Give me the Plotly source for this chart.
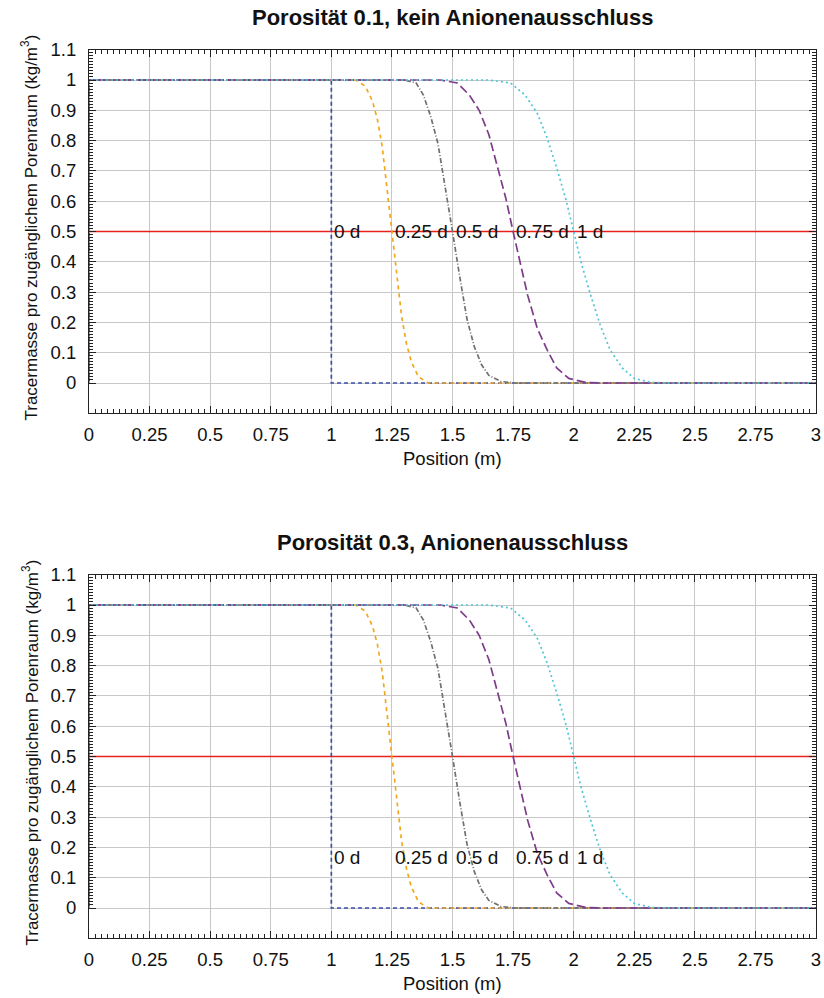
import plotly.graph_objects as go

# ---------------- data ----------------
# breakthrough fronts, same shape in both panels
x_0d = [0, 0, 1.0, 1.0, 3.0]
y_0d = [0, 1, 1.0, 0.0, 0.0]

x_025d = [0, 0, 1.10, 1.14, 1.17, 1.19, 1.21, 1.23, 1.25, 1.27, 1.29, 1.31, 1.33, 1.36, 1.40, 3.0]
y_025d = [0, 1, 1.00, 0.98, 0.93, 0.87, 0.78, 0.64, 0.50, 0.36, 0.22, 0.13, 0.07, 0.02, 0.00, 0.0]

x_05d = [0, 0, 1.30, 1.35, 1.38, 1.41, 1.44, 1.47, 1.50, 1.53, 1.56, 1.59, 1.62, 1.65, 1.70, 1.76, 3.0]
y_05d = [0, 1, 1.00, 0.99, 0.95, 0.88, 0.79, 0.65, 0.50, 0.35, 0.21, 0.12, 0.06, 0.025, 0.005, 0.0, 0.0]

x_075d = [0, 0, 1.45, 1.52, 1.57, 1.61, 1.65, 1.69, 1.72, 1.75, 1.78, 1.81, 1.85, 1.89, 1.93, 1.98, 2.05, 2.12, 3.0]
y_075d = [0, 1, 1.00, 0.99, 0.95, 0.90, 0.82, 0.70, 0.61, 0.50, 0.39, 0.29, 0.18, 0.11, 0.05, 0.015, 0.002, 0.0, 0.0]

x_1d = [0, 0, 1.65, 1.74, 1.80, 1.85, 1.89, 1.93, 1.97, 2.00, 2.03, 2.07, 2.11, 2.15, 2.20, 2.25, 2.32, 2.40, 3.0]
y_1d = [0, 1, 1.00, 0.99, 0.95, 0.89, 0.81, 0.71, 0.60, 0.50, 0.40, 0.29, 0.19, 0.11, 0.05, 0.015, 0.002, 0.0, 0.0]

ref_x = [0, 3]
ref_y = [0.5, 0.5]

label_texts = ["0 d", "0.25 d", "0.5 d", "0.75 d", "1 d"]
label_x = [1.0, 1.25, 1.5, 1.75, 2.0]
label_y_panel = [0.5, 0.166]

titles = ["Porosität 0.1, kein Anionenausschluss", "Porosität 0.3, Anionenausschluss"]

x_ticks = [0, 0.25, 0.5, 0.75, 1, 1.25, 1.5, 1.75, 2, 2.25, 2.5, 2.75, 3]
x_ticklabels = ["0", "0.25", "0.5", "0.75", "1", "1.25", "1.5", "1.75", "2", "2.25", "2.5", "2.75", "3"]
y_ticks = [0, 0.1, 0.2, 0.3, 0.4, 0.5, 0.6, 0.7, 0.8, 0.9, 1.0, 1.1]
y_ticklabels = ["0", "0.1", "0.2", "0.3", "0.4", "0.5", "0.6", "0.7", "0.8", "0.9", "1", "1.1"]

# ---------------- styling ----------------
FONT = "Liberation Sans, Arial, Helvetica, sans-serif"
W, H = 824, 998
series = [
    (x_0d, y_0d, "#3b4fa6", "4px,3px"),
    (x_025d, y_025d, "#f2a71e", "4px,4px"),
    (x_05d, y_05d, "#707070", "5px,2px,1px,2px"),
    (x_075d, y_075d, "#7e3b8a", "9px,4px"),
    (x_1d, y_1d, "#4fc6d8", "2px,3px"),
]

# pixel geometry of panels (target pixels)
px_left, px_right = 89.0, 816.0
panels_px = [(49.7, 413.3), (574.7, 938.3)]

fig = go.Figure()

minor_y = [round(i * 0.01, 2) for i in range(0, 111) if i % 10 != 0]

for p in range(2):
    xa = "x" if p == 0 else "x2"
    ya = "y" if p == 0 else "y2"
    fig.add_trace(go.Scatter(x=ref_x, y=ref_y, mode="lines",
                             line=dict(color="#e8211c", width=1.3),
                             xaxis=xa, yaxis=ya, showlegend=False, hoverinfo="skip"))
    for xs, ys, col, dash in series:
        fig.add_trace(go.Scatter(x=xs, y=ys, mode="lines",
                                 line=dict(color=col, width=1.7, dash=dash),
                                 xaxis=xa, yaxis=ya, showlegend=False, hoverinfo="skip"))
    for t, lx in zip(label_texts, label_x):
        fig.add_annotation(x=lx, y=label_y_panel[p], xref=xa, yref=ya, text=t,
                           showarrow=False, xanchor="left", yanchor="middle", xshift=1,
                           font=dict(family=FONT, size=19, color="#111"))

    top, bot = panels_px[p]
    ydom = [1 - bot / H, 1 - top / H]
    axis_common = dict(showline=True, linecolor="#222", linewidth=1, mirror="allticks",
                       ticks="inside", ticklen=7, tickcolor="#222", tickwidth=1,
                       showgrid=True, gridcolor="#c8c8c8", gridwidth=1, zeroline=False,
                       automargin=False,
                       tickfont=dict(family=FONT, size=18.5, color="#111"))
    xkey = "xaxis" if p == 0 else "xaxis2"
    ykey = "yaxis" if p == 0 else "yaxis2"
    fig.update_layout(**{
        xkey: dict(domain=[px_left / W, px_right / W], range=[0, 3], anchor=ya,
                   tickmode="array", tickvals=x_ticks, ticktext=x_ticklabels,
                   ticklabelstandoff=4,
                   minor=dict(dtick=0.025, tick0=0, ticks="inside", ticklen=4,
                              tickcolor="#222", showgrid=False),
                   **axis_common),
        ykey: dict(domain=ydom, range=[-0.1, 1.1], anchor=xa,
                   tickmode="array", tickvals=y_ticks, ticktext=y_ticklabels,
                   ticklabelstandoff=8,
                   minor=dict(tickmode="array", tickvals=minor_y, ticks="inside", ticklen=4,
                              tickcolor="#222", showgrid=False),
                   **axis_common),
    })

    # panel title
    fig.add_annotation(x=(px_left + px_right) / 2 / W, y=1 - (top - 32) / H, xref="paper", yref="paper",
                       text="<b>" + titles[p] + "</b>", showarrow=False,
                       xanchor="center", yanchor="middle",
                       font=dict(family=FONT, size=22, color="#111"))
    # x-axis title
    fig.add_annotation(x=(px_left + px_right) / 2 / W, y=1 - (bot + 45) / H, xref="paper", yref="paper",
                       text="Position (m)", showarrow=False, xanchor="center", yanchor="middle",
                       font=dict(family=FONT, size=18.5, color="#111"))
    # y-axis title
    fig.add_annotation(x=30 / W, y=1 - ((top + bot) / 2 - 4) / H, xref="paper", yref="paper",
                       text="Tracermasse pro zugänglichem Porenraum (kg/m<sup>3</sup>)",
                       showarrow=False, textangle=-90, xanchor="center", yanchor="middle",
                       font=dict(family=FONT, size=17, color="#111"))

fig.update_layout(width=W, height=H, margin=dict(l=0, r=0, t=0, b=0, autoexpand=False),
                  template="none",
                  paper_bgcolor="white", plot_bgcolor="white",
                  font=dict(family=FONT, color="#111"))

fig.write_html("out.html")
